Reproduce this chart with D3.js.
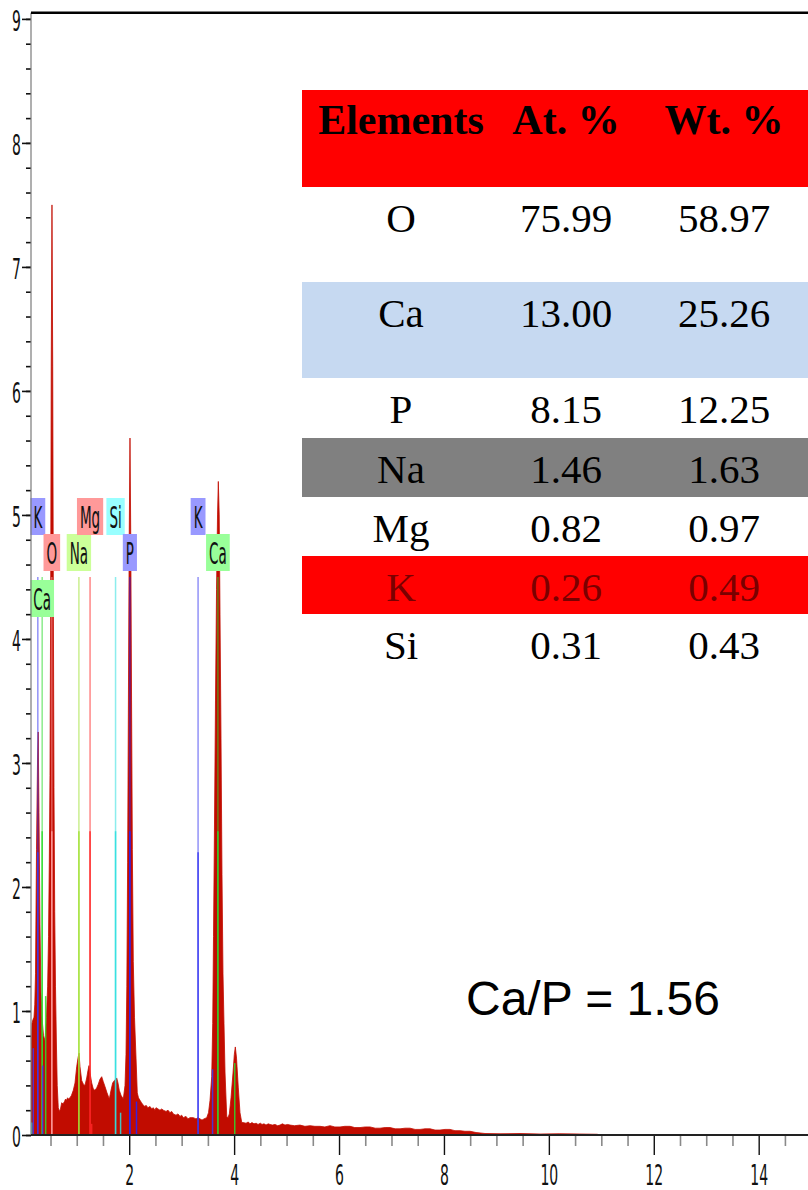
<!DOCTYPE html>
<html>
<head>
<meta charset="utf-8">
<script src="https://cdn.jsdelivr.net/npm/d3@7"></script>
<style>
  html, body { margin: 0; padding: 0; background: #fff; }
  svg { display: block; }
</style>
</head>
<body>
<svg id="chart" width="808" height="1190"></svg>
<script>
// ---- EDS spectrum (energy in keV, intensity in cps/eV) ----
const energy = [
  // low-energy region (C / Ca L)
  0.128, 0.135, 0.147, 0.165, 0.185, 0.200, 0.214, 0.233, 0.252, 0.265, 0.280, 0.299, 0.318, 0.337, 0.366, 0.395,
  // O K
  0.423, 0.445, 0.462, 0.477, 0.490, 0.502, 0.514, 0.528, 0.542, 0.554, 0.566, 0.580, 0.595, 0.612, 0.628, 0.648,
  // Na / Mg / Si region
  0.671, 0.690, 0.713, 0.738, 0.766, 0.787, 0.808, 0.825, 0.843, 0.871, 0.900, 0.934, 0.967, 0.999, 1.024,
  1.043, 1.062, 1.094, 1.125, 1.157, 1.190, 1.214, 1.234, 1.253, 1.285, 1.316, 1.348, 1.380, 1.411, 1.443,
  1.476, 1.506, 1.539, 1.577, 1.621, 1.653, 1.685, 1.720, 1.762, 1.786, 1.811, 1.844, 1.888,
  // P K
  1.920, 1.939, 1.955, 1.970, 1.985, 2.000, 2.015, 2.030, 2.045, 2.060, 2.078, 2.101, 2.130, 2.154,
  // background up to K
  2.177, 2.206, 2.235, 2.269, 2.300, 2.320, 2.358, 2.397, 2.430, 2.459, 2.490, 2.511, 2.549, 2.587,
  2.620, 2.650, 2.702, 2.740, 2.778, 2.810, 2.841, 2.892, 2.930, 2.969, 3.000, 3.031, 3.083, 3.121,
  3.159, 3.222, 3.274, 3.312, 3.350, 3.388, 3.426, 3.478, 3.512,
  // Ca K alpha / beta
  3.541, 3.573, 3.592, 3.607, 3.626, 3.645, 3.665, 3.684, 3.699, 3.716, 3.731, 3.750, 3.769, 3.788,
  3.807, 3.827, 3.859, 3.884, 3.909, 3.941, 3.979, 4.004, 4.023, 4.046, 4.080, 4.112, 4.146,
  // high-energy tail
  4.170, 4.227, 4.270, 4.303, 4.340, 4.379,
  4.420, 4.456, 4.500, 4.532, 4.570, 4.608, 4.650, 4.684, 4.730, 4.780, 4.830, 4.875, 4.920, 4.970,
  5.020, 5.066, 5.150, 5.256, 5.350, 5.447, 5.540, 5.638, 5.730, 5.828, 5.920, 6.019, 6.110, 6.210,
  6.300, 6.400, 6.500, 6.591, 6.690, 6.781, 6.880, 6.972, 7.070, 7.163, 7.260, 7.353, 7.450, 7.544,
  7.640, 7.735, 7.830, 7.925, 8.020, 8.116, 8.210, 8.307, 8.400, 8.497, 8.612, 8.783, 9.069, 9.450,
  9.832, 10.21, 10.59, 10.92, 10.98, 14.94
];
const counts = [
  0.55, 0.70, 0.90, 0.93, 0.95, 1.05, 1.30, 2.30, 3.00, 3.25, 2.60, 1.70, 1.15, 0.95, 0.80, 0.76,
  0.95, 1.20, 1.60, 2.20, 2.90, 4.20, 6.20, 7.50, 6.20, 4.30, 2.80, 1.80, 1.20, 0.75, 0.40, 0.22,
  0.19, 0.21, 0.26, 0.25, 0.27, 0.29, 0.28, 0.30, 0.29, 0.30, 0.32, 0.36, 0.42, 0.55, 0.62,
  0.66, 0.55, 0.44, 0.41, 0.40, 0.46, 0.52, 0.56, 0.50, 0.42, 0.37, 0.36, 0.38, 0.41, 0.45,
  0.47, 0.43, 0.39, 0.34, 0.29, 0.36, 0.42, 0.44, 0.46, 0.42, 0.36, 0.32, 0.29,
  0.40, 0.65, 1.20, 2.20, 3.50, 4.80, 5.62, 4.80, 3.50, 2.30, 1.40, 0.95, 0.62, 0.34,
  0.30, 0.28, 0.26, 0.24, 0.23, 0.24, 0.22, 0.23, 0.21, 0.22, 0.20, 0.22, 0.21, 0.20,
  0.21, 0.20, 0.19, 0.20, 0.18, 0.19, 0.17, 0.16, 0.17, 0.15, 0.16, 0.14, 0.15, 0.13,
  0.14, 0.14, 0.13, 0.14, 0.13, 0.12, 0.13, 0.14, 0.18,
  0.28, 0.47, 0.90, 1.60, 2.50, 3.50, 4.40, 5.00, 5.27, 5.00, 4.20, 3.20, 2.10, 1.30,
  0.90, 0.50, 0.15, 0.14, 0.17, 0.30, 0.50, 0.65, 0.71, 0.62, 0.38, 0.18, 0.10,
  0.100, 0.095, 0.105, 0.090, 0.100, 0.090,
  0.095, 0.085, 0.095, 0.085, 0.090, 0.080, 0.090, 0.085, 0.080, 0.085, 0.075, 0.080, 0.090, 0.080,
  0.085, 0.080, 0.075, 0.080, 0.070, 0.075, 0.070, 0.070, 0.065, 0.075, 0.065, 0.065, 0.070, 0.070,
  0.060, 0.060, 0.065, 0.065, 0.055, 0.055, 0.060, 0.060, 0.050, 0.050, 0.055, 0.055, 0.045, 0.045,
  0.050, 0.050, 0.040, 0.040, 0.045, 0.045, 0.035, 0.035, 0.030, 0.030, 0.020, 0.012, 0.010, 0.012,
  0.008, 0.010, 0.008, 0.006, 0.000, 0.000
];

// ---- identified lines (label, energy keV, strong-part level) ----
const lineElement = ["K", "Ca", "O", "Na", "Mg", "Si", "P", "K", "Ca"];
const lineEnergy  = [0.258, 0.341, 0.525, 1.041, 1.254, 1.740, 2.013, 3.313, 3.691];
const lineLevel   = [2.28, 2.45, 2.45, 2.45, 2.45, 2.45, 2.45, 2.28, 2.45];
const markerHeight = 4.5;

// secondary (beta / minor) lines
const minorElement = ["Si", "K", "K", "Ca", "Mg", "Si", "P", "K", "Ca"];
const minorEnergy  = [0.141, 0.172, 0.351, 0.408, 1.285, 1.836, 2.139, 3.589, 4.012];
const minorLevel   = [0.10, 0.70, 0.56, 1.12, 0.09, 0.18, 0.27, 0.53, 0.58];

// ---- axes ----
const xMajorTicks = [2, 4, 6, 8, 10, 12, 14];
const yMajorTicks = [0, 1, 2, 3, 4, 5, 6, 7, 8, 9];

// ---- composition table ----
const tableHeaders = ["Elements", "At. %", "Wt. %"];
const tableElements = ["O", "Ca", "P", "Na", "Mg", "K", "Si"];
const atomicPct = [75.99, 13.00, 8.15, 1.46, 0.82, 0.26, 0.31];
const weightPct = [58.97, 25.26, 12.25, 1.63, 0.97, 0.49, 0.43];
const caPRatio = 1.56;

// ================= drawing =================
const svg = d3.select("#chart");
const plot = { left: 31, right: 808, top: 12.7, bottom: 1135 };

const x = d3.scaleLinear().domain([0.128, 14.94]).range([plot.left, plot.right]);
const y = d3.scaleLinear().domain([0, 9.05]).range([plot.bottom, plot.top]);

const lineColor = { K: "#3a3af2", Ca: "#2edc2e", O: "#ffa0a0", Na: "#a2e236", Mg: "#ff2626", Si: "#30e0e0", P: "#2424ff" };
const boxColor  = { K: "#9999ff", Ca: "#99ff99", O: "#ff9999", Na: "#ccff99", Mg: "#ff9999", Si: "#99ffff", P: "#9999ff" };

svg.append("defs").append("clipPath").attr("id", "plotClip")
  .append("rect")
  .attr("x", plot.left).attr("y", plot.top)
  .attr("width", plot.right - plot.left).attr("height", plot.bottom - plot.top);

const plotG = svg.append("g").attr("clip-path", "url(#plotClip)");

// spectrum
const area = d3.area()
  .x(i => x(energy[i]))
  .y0(y(0))
  .y1(i => y(counts[i]))
  .curve(d3.curveLinear);

plotG.append("path")
  .datum(d3.range(energy.length))
  .attr("d", area)
  .attr("fill", "#c10c00")
  .attr("stroke", "#c10c00")
  .attr("stroke-width", 0.8);

// marker lines: faint full-height part, stronger lower part
const markers = plotG.append("g");
lineEnergy.forEach((e, i) => {
  const c = lineColor[lineElement[i]];
  markers.append("line")
    .attr("x1", x(e)).attr("x2", x(e))
    .attr("y1", y(0)).attr("y2", y(markerHeight))
    .attr("stroke", c).attr("stroke-width", 1.5).attr("opacity", 0.55);
  markers.append("line")
    .attr("x1", x(e)).attr("x2", x(e))
    .attr("y1", y(0)).attr("y2", y(lineLevel[i]))
    .attr("stroke", c).attr("stroke-width", 1.5).attr("opacity", 0.9);
});
minorEnergy.forEach((e, i) => {
  markers.append("line")
    .attr("x1", x(e)).attr("x2", x(e))
    .attr("y1", y(0)).attr("y2", y(minorLevel[i]))
    .attr("stroke", lineColor[minorElement[i]]).attr("stroke-width", 1.5).attr("opacity", 0.85);
});

// element tags in three tiers above the lines
const labelTier = [0, 2, 1, 1, 0, 0, 1, 0, 1];
const tierTop = [498, 534, 580];
const tagFont = 30, tagScale = 0.45, tagH = 37;
const tags = svg.append("g");
lineEnergy.forEach((e, i) => {
  const el = lineElement[i];
  const g = tags.append("g");
  const t = g.append("text")
    .text(el)
    .attr("font-family", "DejaVu Sans, sans-serif")
    .attr("font-size", tagFont)
    .attr("text-anchor", "middle")
    .attr("fill", "#111");
  const tw = t.node().getComputedTextLength() * tagScale;
  const bw = tw + 6;
  const cx = x(e);
  const tagTop = tierTop[labelTier[i]];
  g.insert("rect", "text")
    .attr("x", cx - bw / 2).attr("y", tagTop)
    .attr("width", bw).attr("height", tagH)
    .attr("fill", boxColor[el]);
  t.attr("transform", `translate(${cx},${tagTop + 30}) scale(${tagScale},1)`);
});

// y axis
const yMinor = svg.append("g").attr("transform", `translate(${plot.left},0)`);
yMinor.call(d3.axisLeft(y).tickValues(d3.range(0, 9.01, 0.2)).tickSize(5).tickFormat(""))
  .call(g => g.select(".domain").remove())
  .call(g => g.selectAll("line").attr("stroke", "#111").attr("stroke-width", 1.6));
const yMajor = svg.append("g").attr("transform", `translate(${plot.left},0)`);
yMajor.call(d3.axisLeft(y).tickValues(yMajorTicks).tickSize(9).tickFormat(d3.format("d")))
  .call(g => g.select(".domain").remove())
  .call(g => g.selectAll("line").attr("stroke", "#111").attr("stroke-width", 1.6));
yMajor.selectAll("text")
  .attr("font-family", "DejaVu Sans, sans-serif")
  .attr("font-size", 28)
  .attr("fill", "#111")
  .attr("x", -10 / 0.5)
  .attr("dy", "0.4em")
  .attr("transform", "scale(0.5,1)");
svg.append("line")
  .attr("x1", plot.left).attr("x2", plot.left)
  .attr("y1", plot.top).attr("y2", plot.bottom)
  .attr("stroke", "#7a7a7a").attr("stroke-width", 1.2);

// x axis
const xMinor = svg.append("g").attr("transform", `translate(0,${plot.bottom})`);
xMinor.call(d3.axisBottom(x).tickValues(d3.range(0.5, 14.6, 0.5).filter(v => v % 2 !== 0)).tickSize(11).tickFormat(""))
  .call(g => g.select(".domain").remove())
  .call(g => g.selectAll("line").attr("stroke", "#8a8a8a").attr("stroke-width", 1.6));
const xMajor = svg.append("g").attr("transform", `translate(0,${plot.bottom})`);
xMajor.call(d3.axisBottom(x).tickValues(xMajorTicks).tickSize(20).tickFormat(d3.format("d")))
  .call(g => g.select(".domain").remove())
  .call(g => g.selectAll("line").attr("stroke", "#111").attr("stroke-width", 1.4));
xMajor.selectAll("text")
  .attr("font-family", "DejaVu Sans, sans-serif")
  .attr("font-size", 28)
  .attr("fill", "#111")
  .attr("y", 50)
  .attr("dy", null)
  .attr("transform", "scale(0.5,1)");
svg.append("line")
  .attr("x1", plot.left).attr("x2", plot.right)
  .attr("y1", plot.bottom).attr("y2", plot.bottom)
  .attr("stroke", "#222").attr("stroke-width", 2);
// top frame line
svg.append("line")
  .attr("x1", plot.left).attr("x2", plot.right)
  .attr("y1", plot.top).attr("y2", plot.top)
  .attr("stroke", "#000").attr("stroke-width", 2.6);

// ---- composition table ----
const tbl = svg.append("g");
const tLeft = 302, tRight = 808;
const colX = [401, 566, 724];
const headTop = 90, headH = 97;
const rowH = [95, 96, 60, 59, 59, 58, 60];
const rowFill = ["#ffffff", "#c6d9f1", "#ffffff", "#808080", "#ffffff", "#ff0000", "#ffffff"];
const rowText = ["#000", "#000", "#000", "#000", "#000", "#7a0000", "#000"];

tbl.append("rect").attr("x", tLeft).attr("y", headTop)
  .attr("width", tRight - tLeft).attr("height", headH).attr("fill", "#ff0000");
tableHeaders.forEach((h, j) => {
  tbl.append("text").text(h)
    .attr("x", colX[j]).attr("y", headTop + 44)
    .attr("text-anchor", "middle")
    .attr("font-family", "Liberation Serif, Times New Roman, serif")
    .attr("font-weight", "bold").attr("font-size", 42).attr("fill", "#000");
});
let rowTop = headTop + headH;
tableElements.forEach((el, i) => {
  tbl.append("rect").attr("x", tLeft).attr("y", rowTop)
    .attr("width", tRight - tLeft).attr("height", rowH[i]).attr("fill", rowFill[i]);
  [el, atomicPct[i].toFixed(2), weightPct[i].toFixed(2)].forEach((v, j) => {
    tbl.append("text").text(v)
      .attr("x", colX[j]).attr("y", rowTop + 45)
      .attr("text-anchor", "middle")
      .attr("font-family", "Liberation Serif, Times New Roman, serif")
      .attr("font-size", 41).attr("fill", rowText[i]);
  });
  rowTop += rowH[i];
});

// Ca/P ratio
svg.append("text")
  .text(`Ca/P = ${caPRatio.toFixed(2)}`)
  .attr("x", 466).attr("y", 1015)
  .attr("font-family", "Liberation Sans, Arial, sans-serif")
  .attr("font-size", 48).attr("fill", "#000");
</script>
</body>
</html>
